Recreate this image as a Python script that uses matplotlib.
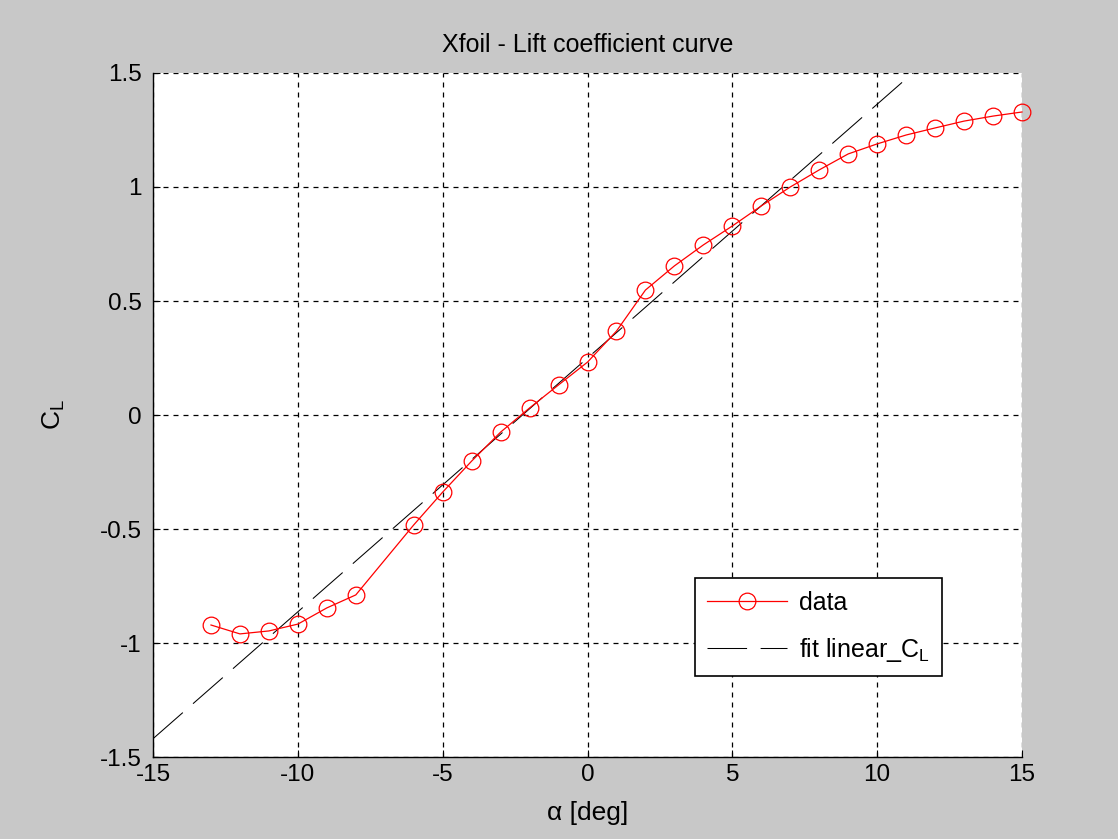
import numpy as np
import matplotlib
matplotlib.use("Agg")
import matplotlib.pyplot as plt

# angle of attack [deg] and lift coefficient from Xfoil
alpha = [-13, -12, -11, -10, -9, -8, -6, -5, -4, -3, -2, -1, 0, 1, 2, 3, 4, 5,
         6, 7, 8, 9, 10, 11, 12, 13, 14, 15]
cl = [-0.921, -0.960, -0.947, -0.917, -0.846, -0.789, -0.482, -0.338, -0.202,
      -0.075, 0.031, 0.132, 0.232, 0.368, 0.548, 0.654, 0.746, 0.829,
      0.917, 1.000, 1.075, 1.145, 1.189, 1.228, 1.259, 1.289, 1.311, 1.329]

# linear fit coefficients (CL = a0 + a1*alpha)
fit_a0 = 0.250
fit_a1 = 0.1113
fit_range = [-15, 15]

plt.rcParams['font.family'] = ['Liberation Sans', 'DejaVu Sans']
plt.rcParams['mathtext.fontset'] = 'custom'
plt.rcParams['mathtext.rm'] = 'Liberation Sans'
plt.rcParams['mathtext.it'] = 'Liberation Sans'
plt.rcParams['axes.unicode_minus'] = False

fig = plt.figure(figsize=(11.18, 8.39), dpi=100, facecolor='#c8c8c8')
ax = fig.add_axes([0.1369, 0.0977, 0.7772, 0.8153])

xf = np.array(fit_range, dtype=float)
ax.plot(xf, fit_a0 + fit_a1 * xf, color='black', lw=0.75, dashes=(38, 13),
        label=r'fit linear_C$_{\mathrm{L}}$', zorder=3)
ax.plot(alpha, cl, color='red', lw=0.9, marker='o', ms=12, mfc='none',
        mec='red', mew=0.9, label='data', zorder=4, clip_on=False)

ax.set_xlim(-15, 15)
ax.set_ylim(-1.5, 1.5)
ax.set_xticks(np.arange(-15, 16, 5))
ax.set_yticks(np.arange(-1.5, 1.6, 0.5))
ax.set_yticklabels(['-1.5', '-1', '-0.5', '0', '0.5', '1', '1.5'])
ax.tick_params(direction='in', length=5, labelsize=17.5, width=0.8)
ax.tick_params(axis='x', pad=5)
ax.tick_params(axis='y', pad=8)

for s in ['top', 'right']:
    ax.spines[s].set_visible(False)
for s in ['left', 'bottom']:
    ax.spines[s].set_linewidth(1.0)
ax.grid(True, color='black', lw=0.9, dashes=(4, 4))
ax.set_axisbelow(True)

ax.set_title('Xfoil - Lift coefficient curve', fontsize=18, pad=15)
ax.set_xlabel('α [deg]', fontsize=19, labelpad=11)
ax.set_ylabel(r'C$_{\mathrm{L}}$', fontsize=19, labelpad=24)

h, l = ax.get_legend_handles_labels()
leg = ax.legend(h[::-1], l[::-1], loc='lower right',
                bbox_to_anchor=(0.908, 0.118), borderaxespad=0, fontsize=18,
                fancybox=False, framealpha=1, edgecolor='black',
                handlelength=3.2, handletextpad=0.45, borderpad=0.5,
                labelspacing=0.85)
leg.get_frame().set_linewidth(1.2)

fig.savefig('out.png', dpi=100, facecolor=fig.get_facecolor())
